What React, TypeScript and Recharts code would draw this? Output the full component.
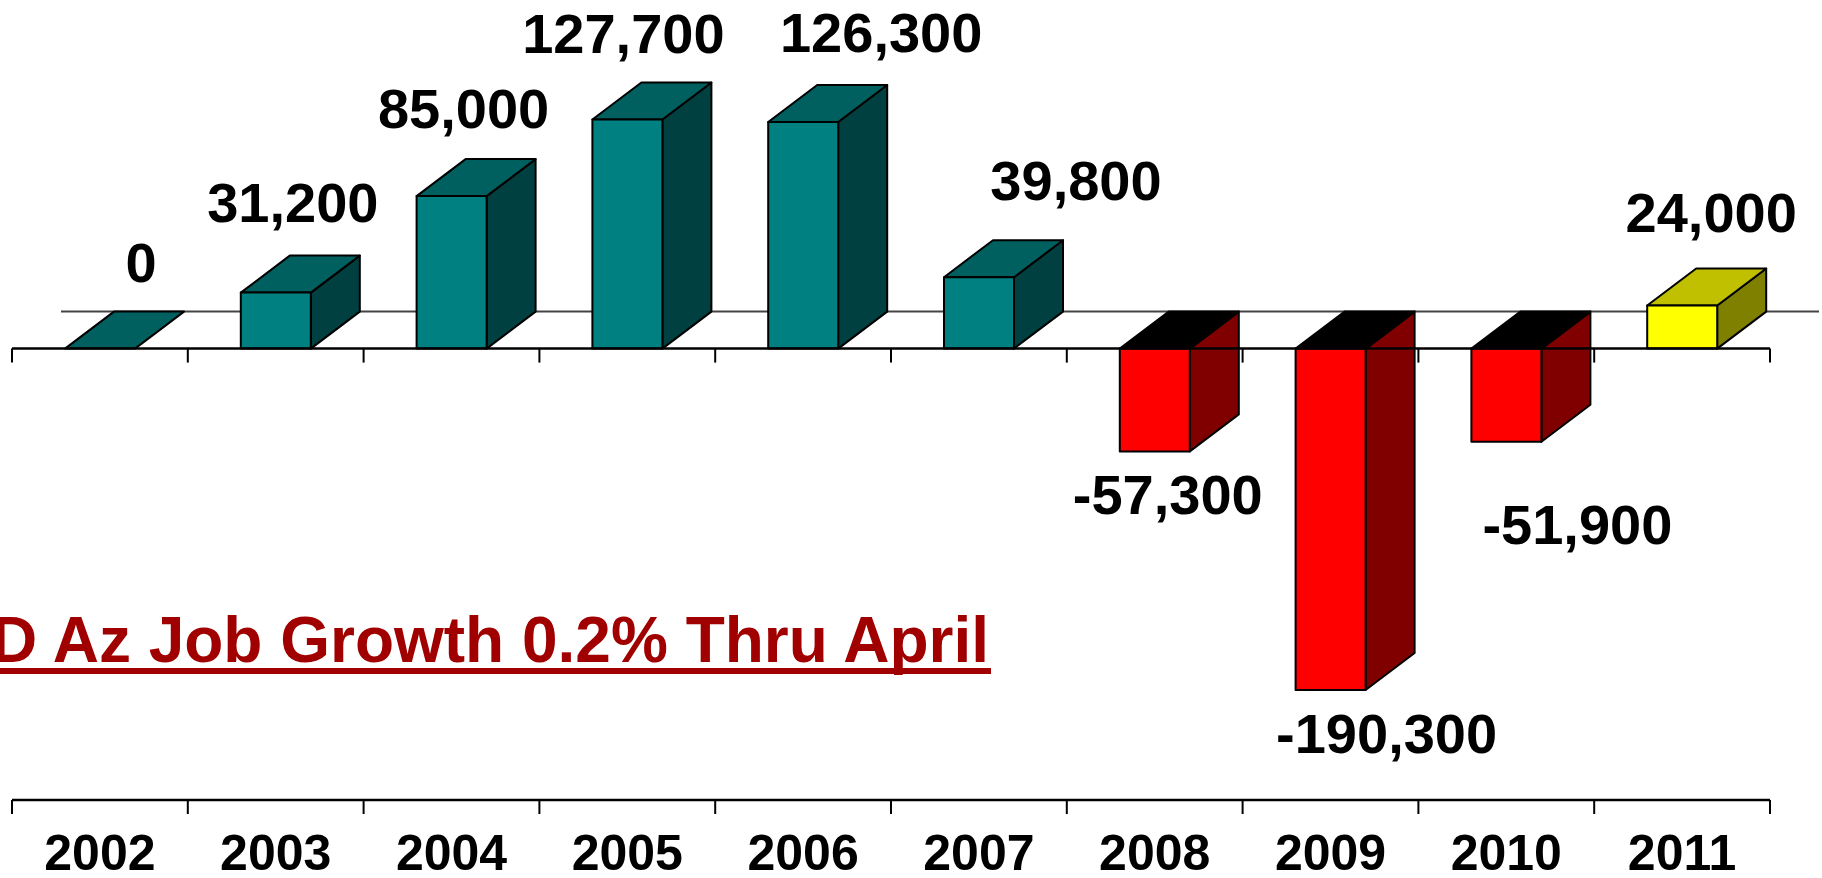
import { BarChart, Bar, XAxis, YAxis, ReferenceLine, LabelList } from 'recharts';

const YEARS = ['2002', '2003', '2004', '2005', '2006', '2007', '2008', '2009', '2010', '2011'];
const JOB_CHANGE = [0, 31200, 85000, 127700, 126300, 39800, -57300, -190300, -51900, 24000];
// 2011 is year-to-date, drawn in yellow
const PARTIAL_YEARS = ['2011'];
const TITLE = 'D Az Job Growth 0.2% Thru April';

const data = YEARS.map((year, i) => ({ year, jobs: JOB_CHANGE[i] }));

// layout of the original slide
const W = 1822;
const H = 878;
const Y_MIN = -251600;
const Y_MAX = 194300;
const DX = 49; // 3d depth
const DY = 37;
const FONT = '"Liberation Sans", Arial, Helvetica, sans-serif';

// hand-placed value labels: [x shift from bar centre, y shift from bar end]
const LABEL_NUDGE: [number, number][] = [
  [41, -67],
  [17, -71],
  [12, -68],
  [-4, -66],
  [78, -70],
  [97, -77],
  [13, 63],
  [56, 63],
  [71, 102],
  [29, -74],
];

const GAIN = { front: '#008080', top: '#006060', side: '#004040' };
const LOSS = { front: '#FF0000', top: '#000000', side: '#800000' };
const YTD = { front: '#FFFF00', top: '#C0C000', side: '#808000' };

const pts = (arr: number[][]) => arr.map((p) => p.join(',')).join(' ');

function Bar3D(props: any) {
  const { x, y, width, payload } = props;
  const h = props.height || 0;
  const top = Math.min(y, y + h);
  const bottom = Math.max(y, y + h);
  const pal = PARTIAL_YEARS.includes(payload.year) ? YTD : payload.jobs < 0 ? LOSS : GAIN;
  const r = x + width;
  return (
    <g stroke="#000" strokeWidth={2} strokeLinejoin="round">
      {bottom - top > 0.5 && (
        <polygon
          points={pts([[r, top], [r + DX, top - DY], [r + DX, bottom - DY], [r, bottom]])}
          fill={pal.side}
        />
      )}
      <polygon
        points={pts([[x, top], [x + DX, top - DY], [r + DX, top - DY], [r, top]])}
        fill={pal.top}
      />
      {bottom - top > 0.5 && (
        <rect x={x} y={top} width={width} height={bottom - top} fill={pal.front} />
      )}
    </g>
  );
}

function ValueLabel(props: any) {
  const vb = props.viewBox || props;
  const x = props.x ?? vb.x;
  const y = props.y ?? vb.y;
  const width = props.width ?? vb.width;
  const h = (props.height ?? vb.height) || 0;
  const index = props.index;
  const value = Number(props.value);
  const [nx, ny] = LABEL_NUDGE[index] || [0, 0];
  const top = Math.min(y, y + h);
  const bottom = Math.max(y, y + h);
  const base = value >= 0 ? top + ny : bottom + ny;
  return (
    <text
      x={x + width / 2 + nx}
      y={base}
      textAnchor="middle"
      fontFamily={FONT}
      fontWeight="bold"
      fontSize={56}
      fill="#000"
    >
      {value.toLocaleString('en-US')}
    </text>
  );
}

// axis line with ticks at the category boundaries
function TickedLine(props: any) {
  const { x1, y1, x2 } = props;
  const step = (x2 - x1) / YEARS.length;
  return (
    <g>
      <line x1={x1} y1={y1} x2={x2} y2={y1} stroke="#000" strokeWidth={2.5} />
      {Array.from({ length: YEARS.length + 1 }, (_, i) => (
        <line
          key={i}
          x1={x1 + i * step}
          y1={y1}
          x2={x1 + i * step}
          y2={y1 + 14}
          stroke="#000"
          strokeWidth={2}
        />
      ))}
    </g>
  );
}

// back wall line at zero, pushed back by the 3d depth
function BackLine(props: any) {
  const { x1, y1, x2 } = props;
  return (
    <line x1={x1 + DX} y1={y1 - DY} x2={x2 + DX} y2={y1 - DY} stroke="#444" strokeWidth={2} />
  );
}

function YearTick(props: any) {
  const { x, y, payload } = props;
  return (
    <text
      x={x}
      y={y}
      dy={62}
      textAnchor="middle"
      fontFamily={FONT}
      fontWeight="bold"
      fontSize={50}
      fill="#000"
    >
      {payload.value}
    </text>
  );
}

export default function App() {
  return (
    <div style={{ position: 'absolute', left: 0, top: 0, width: W, height: H, background: '#fff' }}>
      <BarChart
        width={W}
        height={H}
        data={data}
        margin={{ top: 0, right: 52, left: 12, bottom: 0 }}
      >
        <XAxis
          dataKey="year"
          height={78}
          axisLine={false}
          tickLine={false}
          interval={0}
          tick={<YearTick />}
        />
        <YAxis hide domain={[Y_MIN, Y_MAX]} allowDataOverflow />
        <ReferenceLine y={0} shape={<BackLine />} zIndex={-100} ifOverflow="visible" />
        <Bar dataKey="jobs" barSize={70} shape={<Bar3D />} isAnimationActive={false}>
          <LabelList dataKey="jobs" content={<ValueLabel />} />
        </Bar>
        <ReferenceLine y={0} shape={<TickedLine />} ifOverflow="visible" />
        <ReferenceLine y={Y_MIN} shape={<TickedLine />} ifOverflow="visible" />
      </BarChart>
      <svg
        width={W}
        height={H}
        style={{ position: 'absolute', left: 0, top: 0, pointerEvents: 'none' }}
      >
        <text
          x={989}
          y={662}
          textAnchor="end"
          fontFamily={FONT}
          fontWeight="bold"
          fontSize={64}
          fill="#A00000"
        >
          {TITLE}
        </text>
        <rect x={0} y={668} width={991} height={6} fill="#A00000" />
      </svg>
    </div>
  );
}
